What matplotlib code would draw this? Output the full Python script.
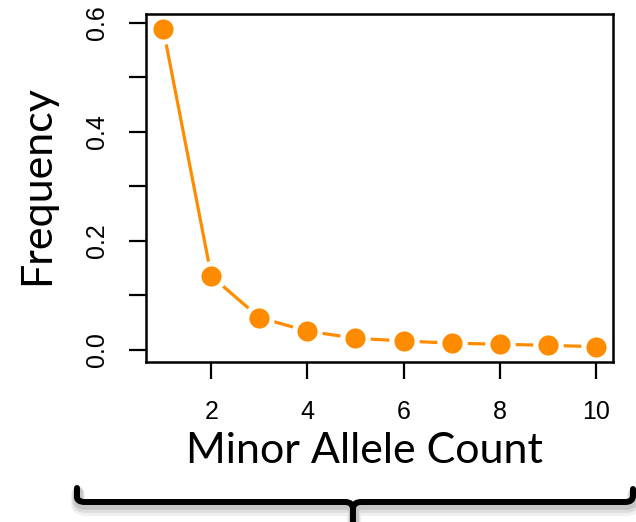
import matplotlib
matplotlib.use("Agg")
import matplotlib.pyplot as plt
from matplotlib.path import Path
from matplotlib.patches import PathPatch

# Site frequency spectrum: proportion of variants by minor allele count
allele_count = [1, 2, 3, 4, 5, 6, 7, 8, 9, 10]
frequency = [0.588, 0.135, 0.059, 0.034, 0.021, 0.016, 0.012, 0.010, 0.008, 0.0055]
x_ticks = [2, 4, 6, 8, 10]
y_ticks = [0.0, 0.1, 0.2, 0.3, 0.4, 0.5, 0.6]
y_tick_labels = ["0.0", "", "0.2", "", "0.4", "", "0.6"]

W, H, DPI = 636, 522, 100
fig = plt.figure(figsize=(W / DPI, H / DPI), dpi=DPI)
ax = fig.add_axes([146 / W, 1 - 362 / H, (613 - 146) / W, (362 - 14) / H])

orange = "#FF8C00"
tick_font = ["Liberation Sans", "DejaVu Sans"]
label_font = ["Lato", "DejaVu Sans"]

# type="b" style: line segments with gaps around the points
ax.plot(allele_count, frequency, color=orange, lw=2.3, zorder=2, solid_capstyle="butt")
ax.plot(allele_count, frequency, ls="none", marker="o", ms=22, mfc="white",
        mec="none", zorder=3)
ax.plot(allele_count, frequency, ls="none", marker="o", ms=14.5, mfc=orange,
        mec="none", zorder=4)

ax.set_xlim(0.64, 10.36)
ax.set_ylim(-0.0226, 0.616)
ax.set_xticks(x_ticks)
ax.set_xticklabels([str(v) for v in x_ticks], fontsize=18, family=tick_font)
ax.set_yticks(y_ticks)
ax.set_yticklabels(y_tick_labels, fontsize=18, family=tick_font, rotation=90,
                   va="center")
ax.tick_params(axis="both", direction="out", length=12.5, width=1.6, colors="black")
ax.tick_params(axis="x", pad=15)
ax.tick_params(axis="y", pad=14)
for s in ax.spines.values():
    s.set_linewidth(1.8)
    s.set_zorder(6)

fig.text(37 / W, 1 - 185 / H, "Frequency", rotation=90, fontsize=31,
         family=label_font, ha="center", va="center")
fig.text(364 / W, 1 - 463 / H, "Minor Allele Count", fontsize=31,
         family=label_font, ha="center", va="baseline")

# Curly brace underneath the plot
def brace_path(dx=0.0, dy=0.0):
    pts = [(77, 488), (77, 497), (77, 502), (85, 502), (345, 502), (353, 502),
           (353, 509), (353, 524), (353, 509), (353, 502), (361, 502),
           (625, 502), (633, 502), (633, 496), (633, 489)]
    codes = [Path.MOVETO, Path.LINETO, Path.CURVE3, Path.CURVE3, Path.LINETO,
             Path.CURVE3, Path.CURVE3, Path.LINETO, Path.MOVETO, Path.CURVE3,
             Path.CURVE3, Path.LINETO, Path.CURVE3, Path.CURVE3, Path.LINETO]
    verts = [((px + dx) / W, 1 - (py + dy) / H) for px, py in pts]
    return Path(verts, codes)

for k, a in [(7, 0.06), (5, 0.08), (3, 0.10)]:
    fig.patches.append(PathPatch(brace_path(1, k), transform=fig.transFigure,
                                 fill=False, lw=4.5 + k * 0.8, ec="black",
                                 alpha=a, capstyle="round", joinstyle="round"))
fig.patches.append(PathPatch(brace_path(), transform=fig.transFigure, fill=False,
                             lw=4.3, ec="black", capstyle="round",
                             joinstyle="round"))

fig.savefig("out.png", dpi=DPI)
